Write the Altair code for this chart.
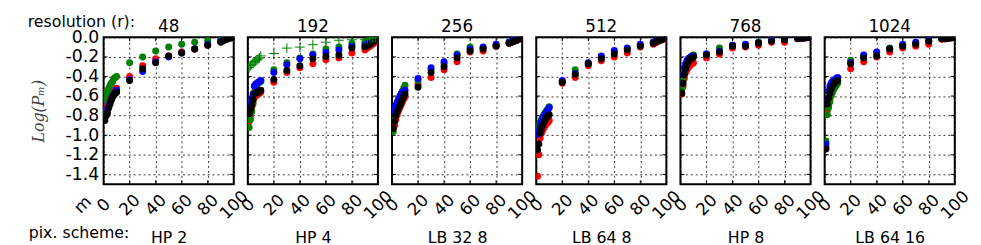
import altair as alt
import pandas as pd

# ---------------- data ----------------
M = [1, 2, 3, 4, 5, 6, 7, 8, 9, 10, 20, 30, 40, 50, 60, 70, 80, 90, 92, 94, 96, 98, 100]
RESOLUTIONS = ["48", "192", "256", "512", "768", "1024"]
SCHEMES = ["HP 2", "HP 4", "LB 32 8", "LB 64 8", "HP 8", "LB 64 16"]
SERIES = ["red", "green", "blue", "black"]
COLORS = ["#ff0000", "#008000", "#0000ff", "#000000"]
X_TICKS = [0, 20, 40, 60, 80, 100]
Y_TICKS = [-1.4, -1.2, -1.0, -0.8, -0.6, -0.4, -0.2, 0.0]

R48_RED = [-0.77, -0.73, -0.70, -0.66, -0.62, -0.59, -0.56, -0.54, -0.53, -0.52, -0.40, -0.29, -0.22, -0.19, -0.15, -0.12, -0.08, -0.04, -0.03, -0.02, -0.01, -0.005, 0.0]
R48_GREEN = [-0.63, -0.57, -0.55, -0.52, -0.49, -0.47, -0.45, -0.42, -0.41, -0.40, -0.26, -0.20, -0.14, -0.10, -0.07, -0.05, -0.03, -0.02, -0.015, -0.01, -0.005, 0.0, 0.0]
R48_BLUE = [-0.81, -0.78, -0.73, -0.70, -0.66, -0.63, -0.60, -0.58, -0.56, -0.54, -0.43, -0.35, -0.25, -0.20, -0.16, -0.12, -0.07, -0.04, -0.03, -0.02, -0.01, -0.005, 0.0]
R48_BLACK = [-0.85, -0.80, -0.77, -0.72, -0.68, -0.64, -0.61, -0.59, -0.57, -0.56, -0.44, -0.32, -0.26, -0.19, -0.16, -0.12, -0.08, -0.05, -0.035, -0.025, -0.015, -0.005, 0.0]

R192_RED = [-0.86, -0.80, -0.74, -0.68, -0.62, -0.60, -0.59, -0.58, -0.57, -0.56, -0.46, -0.36, -0.31, -0.27, -0.23, -0.21, -0.16, -0.13, -0.11, -0.09, -0.07, -0.05, -0.03]
R192_GREEN = [-0.92, -0.84, -0.76, -0.66, -0.56, -0.50, -0.48, -0.47, -0.46, -0.45, -0.33, -0.26, -0.21, -0.17, -0.12, -0.10, -0.06, -0.05, -0.04, -0.03, -0.02, -0.01, 0.0]
R192_BLUE = [-0.70, -0.67, -0.63, -0.58, -0.50, -0.48, -0.47, -0.46, -0.45, -0.44, -0.36, -0.28, -0.22, -0.18, -0.155, -0.13, -0.09, -0.08, -0.065, -0.05, -0.035, -0.02, -0.005]
R192_BLACK = [-0.78, -0.74, -0.70, -0.64, -0.58, -0.57, -0.56, -0.56, -0.55, -0.54, -0.43, -0.34, -0.29, -0.22, -0.195, -0.18, -0.11, -0.10, -0.085, -0.07, -0.05, -0.03, -0.01]
R192_PLUS = [-0.31, -0.29, -0.28, -0.26, -0.25, -0.24, -0.23, -0.22, -0.21, -0.19, -0.165, -0.11, -0.10, -0.075, -0.05, -0.03, -0.025, -0.02, -0.015, -0.01, -0.005, 0.0, 0.0]

R256_RED = [-0.92, -0.90, -0.84, -0.79, -0.75, -0.72, -0.69, -0.66, -0.63, -0.61, -0.48, -0.41, -0.33, -0.25, -0.15, -0.14, -0.09, -0.06, -0.05, -0.04, -0.03, -0.02, -0.01]
R256_GREEN = [-0.96, -0.84, -0.76, -0.70, -0.66, -0.62, -0.58, -0.55, -0.52, -0.49, -0.44, -0.33, -0.27, -0.17, -0.10, -0.11, -0.08, -0.05, -0.04, -0.03, -0.02, -0.01, 0.0]
R256_BLUE = [-0.75, -0.72, -0.69, -0.66, -0.63, -0.60, -0.58, -0.56, -0.55, -0.54, -0.42, -0.31, -0.25, -0.18, -0.12, -0.10, -0.07, -0.05, -0.04, -0.03, -0.02, -0.01, 0.0]
R256_BLACK = [-0.93, -0.86, -0.80, -0.76, -0.73, -0.70, -0.66, -0.63, -0.60, -0.58, -0.51, -0.36, -0.30, -0.21, -0.14, -0.12, -0.09, -0.06, -0.05, -0.04, -0.03, -0.015, -0.005]

R512_RED = [-1.42, -1.20, -1.03, -0.98, -0.95, -0.92, -0.90, -0.88, -0.87, -0.85, -0.47, -0.41, -0.29, -0.24, -0.20, -0.16, -0.10, -0.07, -0.055, -0.04, -0.03, -0.02, -0.01]
R512_GREEN = [-0.93, -0.90, -0.87, -0.84, -0.81, -0.79, -0.77, -0.75, -0.73, -0.71, -0.45, -0.33, -0.27, -0.20, -0.15, -0.12, -0.08, -0.05, -0.04, -0.03, -0.02, -0.01, 0.0]
R512_BLUE = [-0.99, -0.95, -0.90, -0.86, -0.83, -0.80, -0.78, -0.76, -0.74, -0.72, -0.44, -0.37, -0.26, -0.19, -0.135, -0.11, -0.07, -0.05, -0.04, -0.03, -0.02, -0.01, 0.0]
R512_BLACK = [-1.15, -1.09, -0.98, -0.93, -0.90, -0.87, -0.84, -0.82, -0.80, -0.79, -0.46, -0.38, -0.27, -0.22, -0.17, -0.13, -0.09, -0.06, -0.045, -0.035, -0.025, -0.015, -0.005]

R768_RED = [-0.58, -0.50, -0.42, -0.36, -0.33, -0.31, -0.29, -0.28, -0.27, -0.26, -0.21, -0.17, -0.11, -0.10, -0.08, -0.05, -0.05, -0.015, -0.012, -0.01, -0.008, -0.005, -0.003]
R768_GREEN = [-0.53, -0.44, -0.36, -0.30, -0.26, -0.23, -0.21, -0.20, -0.19, -0.18, -0.17, -0.11, -0.08, -0.08, -0.05, -0.03, -0.02, -0.01, -0.008, -0.006, -0.004, -0.002, 0.0]
R768_BLUE = [-0.47, -0.38, -0.31, -0.27, -0.24, -0.22, -0.21, -0.20, -0.195, -0.19, -0.17, -0.14, -0.08, -0.07, -0.055, -0.03, -0.02, -0.01, -0.008, -0.006, -0.004, -0.002, 0.0]
R768_BLACK = [-0.57, -0.47, -0.38, -0.32, -0.28, -0.25, -0.23, -0.22, -0.21, -0.20, -0.18, -0.15, -0.09, -0.09, -0.06, -0.04, -0.025, -0.012, -0.01, -0.008, -0.005, -0.003, 0.0]

R1024_RED = [-1.12, -0.75, -0.70, -0.64, -0.59, -0.55, -0.52, -0.50, -0.48, -0.46, -0.32, -0.25, -0.20, -0.15, -0.11, -0.09, -0.07, -0.02, -0.018, -0.015, -0.01, -0.005, -0.003]
R1024_GREEN = [-1.06, -0.79, -0.72, -0.66, -0.60, -0.56, -0.53, -0.51, -0.49, -0.47, -0.235, -0.19, -0.16, -0.11, -0.08, -0.06, -0.03, -0.015, -0.012, -0.01, -0.006, -0.003, 0.0]
R1024_BLUE = [-1.09, -0.63, -0.55, -0.50, -0.47, -0.45, -0.44, -0.43, -0.42, -0.41, -0.26, -0.18, -0.15, -0.12, -0.07, -0.05, -0.03, -0.01, -0.008, -0.006, -0.004, -0.002, 0.0]
R1024_BLACK = [-1.14, -0.68, -0.62, -0.57, -0.53, -0.50, -0.48, -0.46, -0.45, -0.44, -0.27, -0.21, -0.19, -0.12, -0.09, -0.07, -0.04, -0.015, -0.012, -0.01, -0.007, -0.004, 0.0]

PANELS = [
    [R48_RED, R48_GREEN, R48_BLUE, R48_BLACK],
    [R192_RED, R192_GREEN, R192_BLUE, R192_BLACK],
    [R256_RED, R256_GREEN, R256_BLUE, R256_BLACK],
    [R512_RED, R512_GREEN, R512_BLUE, R512_BLACK],
    [R768_RED, R768_GREEN, R768_BLUE, R768_BLACK],
    [R1024_RED, R1024_GREEN, R1024_BLUE, R1024_BLACK],
]

FONT = "DejaVu Sans"
W, H = 132, 149
TICK = 4
Y_LABEL_EXPR = "replace(format(datum.value, '.1f'), '\u2212', '-')"


def text_layer(txt, x, y, size=16, align="left", baseline="alphabetic", angle=0):
    kw = dict(align=align, baseline=baseline, fontSize=size, font=FONT, color="black")
    if angle:
        kw["angle"] = angle
    return alt.Chart(pd.DataFrame({"t": [txt]})).mark_text(**kw).encode(
        text="t:N", x=alt.value(x), y=alt.value(y))


def make_panel(idx):
    rows = []
    for s, vals in zip(SERIES, PANELS[idx]):
        for m, v in zip(M, vals):
            rows.append({"s": s, "m": m, "v": v})
    df = pd.DataFrame(rows)
    first = idx == 0
    if first:
        yaxis = alt.Axis(values=Y_TICKS, labelExpr=Y_LABEL_EXPR, labelFontSize=17.5,
                         labelPadding=5, title="Log(P\u2098)", titleFont="DejaVu Serif",
                         titleFontStyle="italic", titleFontWeight="normal",
                         titleFontSize=16, titleColor="#444444", titlePadding=19)
    else:
        yaxis = alt.Axis(values=Y_TICKS, labels=False, title=None)
    xaxis = alt.Axis(values=X_TICKS, format="d", labelAngle=315, labelAlign="center",
                     labelBaseline="middle", labelPadding=21, labelFontSize=17,
                     labelOverlap=False, labelFlush=False, labelBound=False,
                     title=SCHEMES[idx], titleFontSize=16, titleFontWeight="normal",
                     titleBaseline="alphabetic", titleY=59)
    xs = alt.X("m:Q", scale=alt.Scale(domain=[0, 100], nice=False, zero=False), axis=xaxis)
    ys = alt.Y("v:Q", scale=alt.Scale(domain=[-1.5, 0], nice=False, zero=False), axis=yaxis)

    # inward tick marks on all four sides
    xt = pd.DataFrame({"m": X_TICKS})
    yt = pd.DataFrame({"v": Y_TICKS})
    ticks = [
        alt.Chart(xt).mark_rule(color="black", strokeWidth=1).encode(
            x=xs, y=alt.value(0), y2=alt.value(TICK)),
        alt.Chart(xt).mark_rule(color="black", strokeWidth=1).encode(
            x=xs, y=alt.value(H - TICK), y2=alt.value(H)),
        alt.Chart(yt).mark_rule(color="black", strokeWidth=1).encode(
            y=ys, x=alt.value(0), x2=alt.value(TICK)),
        alt.Chart(yt).mark_rule(color="black", strokeWidth=1).encode(
            y=ys, x=alt.value(W - TICK), x2=alt.value(W)),
    ]

    pts = alt.Chart(df).mark_circle(size=50, opacity=1, clip=True).encode(
        x=xs, y=ys,
        color=alt.Color("s:N", scale=alt.Scale(domain=SERIES, range=COLORS), legend=None),
    )
    layers = ticks + [pts]
    if idx == 1:
        dfp = pd.DataFrame({"m": M, "v": R192_PLUS})
        plus = alt.Chart(dfp).mark_point(shape="M-1,0L1,0M0,-1L0,1", size=100, filled=False,
                                         strokeWidth=1, color="#008000", opacity=1,
                                         clip=True).encode(x=xs, y=ys)
        layers.append(plus)
    # panel heading (resolution value)
    layers.append(text_layer(RESOLUTIONS[idx], W / 2, -5, size=17, align="center"))
    if first:
        layers.append(text_layer("resolution (r):", -77, -10, size=16))
        layers.append(text_layer("pix. scheme:", -76, 204, size=16))
        layers.append(text_layer("m", -21, 170, size=17, align="center",
                                 baseline="middle", angle=315))
    return alt.layer(*layers).properties(width=W, height=H)


chart = alt.hconcat(*[make_panel(i) for i in range(6)], spacing=14.3, bounds="flush").properties(
    padding={"left": 19, "top": 4, "right": 0, "bottom": 0}
).configure_view(
    stroke="black", strokeWidth=2
).configure_axis(
    grid=True, gridColor="black", gridDash=[2, 3], gridWidth=0.8, gridOpacity=1,
    domain=False, ticks=False, labelFont=FONT, titleFont=FONT,
    labelColor="black", titleColor="black"
)

chart.save("out.html", embed_options={"renderer": "svg", "actions": False})
